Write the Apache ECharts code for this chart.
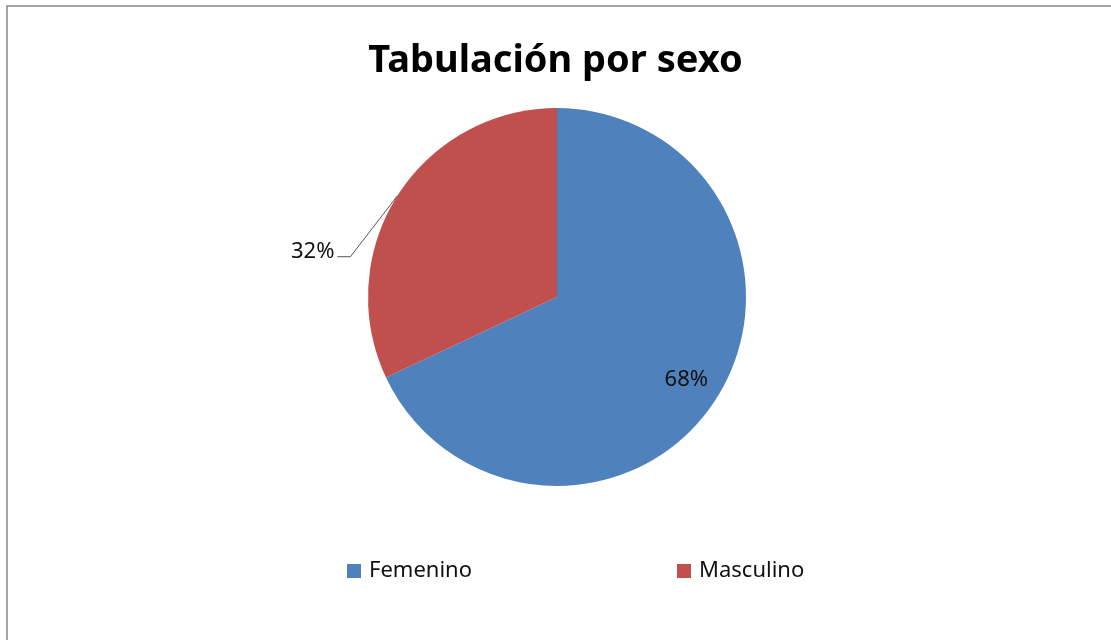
<!DOCTYPE html>
<html>
<head>
<meta charset="utf-8">
<script src="https://cdn.jsdelivr.net/npm/echarts@6/dist/echarts.min.js"></script>
<style>
  html, body { margin: 0; padding: 0; background: #fff; }
  #chart { width: 1111px; height: 640px; }
</style>
</head>
<body>
<div id="chart"></div>
<script>
// Respondents by sex
const categories = ['Femenino', 'Masculino'];
const shares = [68, 32];
const colors = ['#4F81BD', '#C0504D'];

const chart = echarts.init(document.getElementById('chart'), null, { renderer: 'canvas' });

const pieData = categories.map((name, i) => ({
  name: name,
  value: shares[i],
  itemStyle: { color: colors[i] },
  label: i === 0
    ? { position: 'inside', offset: [47, 30] }
    : { position: 'outside' },
  labelLine: { show: i !== 0 }
}));

chart.setOption({
  animation: false,
  backgroundColor: '#ffffff',
  graphic: [{
    type: 'rect',
    shape: { x: 7, y: 6, width: 1300, height: 800 },
    style: { fill: 'none', stroke: '#878787', lineWidth: 1.5 },
    silent: true
  }],
  title: {
    text: 'Tabulación por sexo',
    left: 'center',
    top: 37,
    textStyle: {
      fontFamily: 'Noto Sans',
      fontWeight: 'bold',
      fontSize: 38,
      color: '#000'
    }
  },
  legend: {
    data: categories,
    left: 342,
    top: 555,
    itemWidth: 14,
    itemHeight: 14,
    itemGap: 205,
    icon: 'rect',
    textStyle: {
      fontFamily: 'Noto Sans',
      fontSize: 22,
      color: '#111',
      padding: [0, 0, 0, 3]
    }
  },
  series: [{
    type: 'pie',
    center: [557, 297],
    radius: 189,
    startAngle: 90,
    clockwise: true,
    data: pieData,
    label: {
      show: true,
      formatter: '{d}%',
      fontFamily: 'Noto Sans',
      fontSize: 22,
      color: '#111'
    },
    labelLine: {
      lineStyle: { color: '#555', width: 1 }
    },
    emphasis: { disabled: true },
    labelLayout: function (params) {
      if (params.dataIndex !== 1 || !params.labelLinePoints) return {};
      const p0 = params.labelLinePoints[0];
      const bend = [p0[0] - 47, p0[1] + 61];
      const end = [p0[0] - 60, p0[1] + 61];
      return {
        x: end[0] - 3,
        y: end[1] - 5,
        align: 'right',
        verticalAlign: 'middle',
        labelLinePoints: [p0, bend, end]
      };
    }
  }]
});
</script>
</body>
</html>
